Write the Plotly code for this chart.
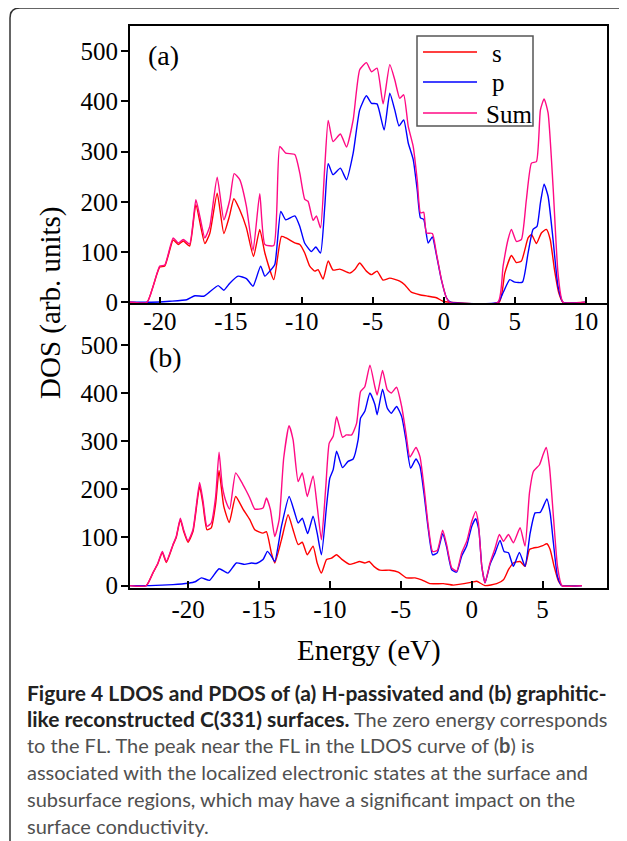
import plotly.graph_objects as go

# ---------------- data (energy eV, DOS arb. units) ----------------
A_S = [(-22.1,0),(-20.9,0),(-20.47,32),(-20.0,70),(-19.65,72),(-19.06,124),(-18.7,115),(-18.35,122),
       (-17.9,112),(-17.46,194),(-16.83,117),(-16.48,137),(-15.96,217),(-15.49,137),(-15.1,171),
       (-14.78,206),(-14.37,184),(-13.9,148),(-13.4,91),(-12.96,145),(-12.6,98),(-11.97,45),
       (-11.43,131),(-11.1,128),(-10.49,118),(-10.14,115),(-9.79,98),(-9.44,72),(-9.08,62),
       (-8.85,65),(-8.5,46),(-8.14,82),(-7.8,64),(-7.32,66),(-6.62,58),(-6.27,65),(-5.92,78),
       (-5.45,62),(-5.09,55),(-4.7,62),(-4.27,44),(-3.8,48),(-3.1,42),(-2.75,35),(-2.28,20),
       (-1.69,15),(-1.1,12),(-0.52,9),(-0.05,2),(0.4,0),(3.9,0),(4.3,58),(4.77,93),(5.12,79),
       (5.47,82),(5.94,128),(6.18,135),(6.53,117),(6.88,138),(7.23,145),(7.5,125),(7.8,65),
       (8.1,19),(8.4,0),(10.0,0)]
A_P = [(-22.1,0),(-20.6,0),(-19.3,2),(-18.1,5),(-17.53,13),(-16.9,12),(-16.6,18),(-15.89,33),
       (-15.49,24),(-15.07,38),(-14.48,52),(-13.9,47),(-13.43,32),(-12.9,72),(-12.6,52),(-12.25,62),
       (-11.9,75),(-11.48,181),(-11.13,164),(-10.49,172),(-10.14,151),(-9.8,118),(-9.32,101),
       (-9.01,110),(-8.68,98),(-8.38,191),(-8.14,276),(-7.8,254),(-7.28,267),(-6.85,244),
       (-6.38,297),(-5.92,383),(-5.45,411),(-5.09,396),(-4.7,395),(-4.2,343),(-3.8,416),
       (-3.45,383),(-3.15,351),(-2.82,363),(-2.5,317),(-2.15,284),(-1.87,224),(-1.64,168),
       (-1.41,165),(-1.1,118),(-0.8,130),(-0.52,95),(-0.16,44),(0.19,9),(0.47,0),(3.82,0),
       (4.18,19),(4.65,45),(5.0,40),(5.54,40),(5.94,98),(6.29,145),(6.57,151),(6.81,198),
       (7.07,235),(7.35,211),(7.7,125),(8.05,32),(8.4,0),(10.0,0)]
A_SUM = [(-22.1,0),(-20.9,0),(-20.47,32),(-20.0,72),(-19.65,74),(-19.06,128),(-18.7,118),
         (-18.35,125),(-17.9,116),(-17.46,204),(-17.18,171),(-16.83,128),(-16.48,151),(-15.96,249),
         (-15.49,164),(-15.07,204),(-14.76,256),(-14.37,244),(-13.9,191),(-13.43,103),(-12.96,216),
         (-12.6,115),(-11.97,113),(-11.55,310),(-11.13,297),(-10.49,294),(-10.14,257),(-9.79,205),
         (-9.56,201),(-9.2,163),(-8.97,172),(-8.68,148),(-8.38,270),(-8.14,362),(-7.8,320),
         (-7.28,335),(-6.85,309),(-6.38,363),(-5.92,463),(-5.45,477),(-5.09,459),(-4.7,466),
         (-4.27,395),(-3.8,473),(-3.45,443),(-3.1,406),(-2.82,413),(-2.5,350),(-2.15,310),
         (-1.87,244),(-1.64,178),(-1.41,179),(-1.22,138),(-0.8,137),(-0.52,98),(-0.16,45),
         (0.19,9),(0.42,0),(3.82,0),(4.18,72),(4.53,125),(4.77,145),(5.12,121),(5.47,125),
         (5.82,204),(6.18,277),(6.53,280),(6.81,383),(7.07,405),(7.35,377),(7.7,231),(8.05,58),
         (8.4,0),(10.0,0)]

B_S = [(-24.1,0),(-22.95,0),(-22.49,26),(-22.13,46),(-21.82,69),(-21.54,48),(-21.07,84),(-20.84,100),
       (-20.55,137),(-20.32,113),(-20.01,90),(-19.66,112),(-19.19,206),(-18.96,170),(-18.67,116),
       (-18.37,120),(-18.06,170),(-17.82,239),(-17.49,165),(-17.1,131),(-16.65,185),(-16.13,159),
       (-15.65,137),(-15.3,116),(-14.72,109),(-14.48,112),(-14.13,68),(-13.89,47),(-13.42,95),
       (-12.95,147),(-12.6,116),(-12.24,85),(-11.95,90),(-11.6,64),(-11.19,82),(-10.9,47),
       (-10.6,26),(-10.24,54),(-9.89,57),(-9.53,64),(-9.18,55),(-8.6,44),(-8.24,47),(-7.9,50),
       (-7.54,47),(-7.23,50),(-6.9,40),(-6.48,32),(-5.77,32),(-5.18,28),(-4.6,16),(-4.0,16),
       (-3.53,12),(-2.95,4),(-2.0,4),(-1.3,1),(0.0,7),(0.35,9),(0.94,0),(1.76,4),(2.24,12),
       (2.59,33),(2.94,47),(3.41,50),(3.76,40),(4.07,75),(4.35,78),(4.71,80),(5.01,83),(5.3,87),
       (5.53,75),(5.81,40),(6.12,9),(6.36,0),(7.78,0)]
B_P = [(-24.1,0),(-22.7,0),(-21.07,2),(-20.0,5),(-19.5,8),(-19.07,16),(-18.49,11),(-17.82,35),
       (-17.19,26),(-16.6,47),(-16.01,44),(-15.54,47),(-15.2,46),(-14.72,54),(-14.41,71),(-14.13,61),
       (-13.89,50),(-13.42,123),(-12.88,185),(-12.48,151),(-12.24,130),(-11.95,140),(-11.57,108),
       (-11.19,144),(-10.9,109),(-10.6,64),(-10.24,165),(-10.01,223),(-9.77,241),(-9.53,279),
       (-9.11,245),(-8.72,258),(-8.36,263),(-8.01,303),(-7.84,348),(-7.54,362),(-7.18,400),
       (-6.83,376),(-6.67,355),(-6.29,408),(-5.96,369),(-5.67,358),(-5.3,372),(-4.94,351),
       (-4.64,303),(-4.31,244),(-3.93,263),(-3.65,248),(-3.37,192),(-3.06,116),(-2.76,64),
       (-2.43,68),(-2.05,108),(-1.77,80),(-1.41,33),(-1.06,28),(-0.71,61),(-0.35,83),(0.0,123),
       (0.28,139),(0.5,116),(0.71,40),(0.94,6),(1.29,44),(1.65,68),(2.0,94),(2.28,71),(2.59,68),
       (2.94,40),(3.36,69),(3.76,40),(4.12,109),(4.47,151),(4.83,152),(5.06,165),(5.3,180),
       (5.53,151),(5.76,89),(6.05,19),(6.36,0),(7.78,0)]
B_SUM = [(-24.1,0),(-22.95,0),(-22.49,26),(-22.13,47),(-21.82,71),(-21.54,50),(-21.07,85),
         (-20.84,102),(-20.55,140),(-20.32,116),(-20.01,93),(-19.66,116),(-19.19,214),(-18.96,178),
         (-18.67,123),(-18.37,130),(-18.06,185),(-17.82,277),(-17.59,206),(-17.3,172),(-17.07,159),
         (-16.65,234),(-16.25,216),(-15.94,199),(-15.65,182),(-15.3,159),(-14.72,161),(-14.48,182),
         (-14.2,158),(-13.89,102),(-13.58,137),(-13.26,265),(-12.88,332),(-12.6,303),(-12.24,216),
         (-11.95,234),(-11.6,185),(-11.19,228),(-10.9,165),(-10.6,95),(-10.29,206),(-10.05,296),
         (-9.77,310),(-9.53,351),(-9.11,308),(-8.84,313),(-8.47,313),(-8.12,337),(-7.84,403),
         (-7.54,413),(-7.18,458),(-6.83,413),(-6.67,396),(-6.29,447),(-5.96,407),(-5.67,400),
         (-5.3,412),(-4.94,372),(-4.64,317),(-4.36,267),(-3.93,287),(-3.65,268),(-3.37,206),
         (-3.06,123),(-2.76,71),(-2.43,73),(-2.05,115),(-1.77,85),(-1.41,37),(-1.06,30),(-0.71,68),
         (-0.35,92),(0.0,133),(0.28,154),(0.47,130),(0.71,40),(0.94,6),(1.29,47),(1.65,78),
         (1.95,106),(2.24,92),(2.59,106),(2.94,89),(3.41,120),(3.76,82),(4.07,192),(4.35,237),
         (4.78,251),(5.01,270),(5.25,287),(5.48,248),(5.76,144),(6.05,40),(6.36,0),(7.78,0)]

SERIES = ["s", "p", "Sum"]
X_TICKS_A = [-20, -15, -10, -5, 0, 5, 10]
X_TICKTEXT_A = ["-20", "-15", "-10", "-5", "0", "5", "10"]
X_TICKS_B = [-20, -15, -10, -5, 0, 5]
X_TICKTEXT_B = ["-20", "-15", "-10", "-5", "0", "5"]
Y_TICKS = [0, 100, 200, 300, 400, 500]

# caption lines: (bold part, regular part)
CAPTION = [
    ("Figure 4 LDOS and PDOS of (a) H-passivated and (b) graphitic-", ""),
    ("like reconstructed C(331) surfaces.", " The zero energy corresponds"),
    ("", "to the FL. The peak near the FL in the LDOS curve of (<b>b</b>) is"),
    ("", "associated with the localized electronic states at the surface and"),
    ("", "subsurface regions, which may have a significant impact on the"),
    ("", "surface conductivity."),
]

# ---------------- layout helpers (screen pixel coordinates) ----------------
OFF = 8                       # page body margin of the html page
SW, SH = 627, 841             # screen size
PL, PR, PT, PB = 130, 607, 26, 588   # plot area in screen pixels
FW, FH = SW - OFF, SH - OFF
PW, PH = PR - PL, PB - PT


def px(x):
    return (x - PL) / PW


def py(y):
    return (PB - y) / PH


SPLIT = py(303)
COLORS = {"s": "#FF0000", "p": "#0000FF", "Sum": "#FF0A84"}
SERIF = "Liberation Serif"

fig = go.Figure()
for name, data in zip(SERIES, [A_S, A_P, A_SUM]):
    fig.add_trace(go.Scatter(
        x=[d[0] for d in data], y=[d[1] for d in data], mode="lines", name=name,
        line=dict(color=COLORS[name], width=1.4, shape="spline", smoothing=0.5),
        xaxis="x2", yaxis="y2", showlegend=False))
for name, data in zip(SERIES, [B_S, B_P, B_SUM]):
    fig.add_trace(go.Scatter(
        x=[d[0] for d in data], y=[d[1] for d in data], mode="lines", name=name,
        line=dict(color=COLORS[name], width=1.4, shape="spline", smoothing=0.5),
        xaxis="x", yaxis="y", showlegend=False))

axis_common = dict(showline=True, linecolor="black", linewidth=2, mirror=True,
                   showgrid=False, zeroline=False, tickcolor="black", tickwidth=1.5,
                   tickfont=dict(family=SERIF, size=25, color="black"))

fig.update_layout(
    width=FW, height=FH,
    margin=dict(l=PL - OFF, r=SW - PR, t=PT - OFF, b=SH - PB),
    paper_bgcolor="white", plot_bgcolor="white",
    xaxis=dict(axis_common, domain=[0, 1], anchor="y", range=[-24.1, 9.54], mirror=False,
               tickvals=X_TICKS_B, ticktext=X_TICKTEXT_B, ticks="inside", ticklen=7,
               ticklabelstandoff=-2),
    yaxis=dict(axis_common, domain=[0, SPLIT], anchor="x", range=[-5, 587],
               tickvals=Y_TICKS, ticks="outside", ticklen=7, ticklabelstandoff=-2),
    xaxis2=dict(axis_common, domain=[0, 1], anchor="y2", range=[-22.1, 11.5],
                tickvals=X_TICKS_A, ticktext=X_TICKTEXT_A, ticks="inside", ticklen=6,
                ticklabelstandoff=-5),
    yaxis2=dict(axis_common, domain=[SPLIT, 1], anchor="x2", range=[-1.5, 550],
                tickvals=Y_TICKS, ticks="outside", ticklen=7, ticklabelstandoff=-2),
    showlegend=False,
)

ann = [
    dict(text="(a)", x=px(146), y=py(55), xanchor="left", yanchor="middle",
         font=dict(family=SERIF, size=28, color="black")),
    dict(text="(b)", x=px(147), y=py(357), xanchor="left", yanchor="middle",
         font=dict(family=SERIF, size=28, color="black")),
    dict(text="DOS (arb. units)", x=px(50), y=py(303), textangle=-90,
         xanchor="center", yanchor="middle", font=dict(family=SERIF, size=29, color="black")),
    dict(text="Energy (eV)", x=px(368.5), y=py(650), xanchor="center", yanchor="middle",
         font=dict(family=SERIF, size=29, color="black")),
]
for i, (bold, reg) in enumerate(CAPTION):
    txt = ""
    if bold:
        txt += f"<b><span style='color:#222'>{bold}</span></b>"
    if reg:
        txt += f"<span style='font-size:20px'>{reg}</span>"
    ann.append(dict(text=txt, x=px(25), y=py(692 + 26.7 * i), xanchor="left",
                    yanchor="middle", font=dict(family="Lato", size=21, color="#505050")))

# legend box (drawn in screen pixels)
LEG_Y = {"s": 52, "p": 82, "Sum": 113}
LEG_TX = {"s": 490, "p": 490, "Sum": 484}
shapes = [dict(type="rect", x0=px(417), x1=px(533), y0=py(36), y1=py(126),
               xref="paper", yref="paper", fillcolor="white",
               line=dict(color="#555", width=1.5), layer="above")]
for name in SERIES:
    shapes.append(dict(type="line", x0=px(423), x1=px(477), y0=py(LEG_Y[name]), y1=py(LEG_Y[name]),
                       xref="paper", yref="paper", line=dict(color=COLORS[name], width=1.5),
                       layer="above"))
    ann.append(dict(text=name, x=px(LEG_TX[name]), y=py(LEG_Y[name] + 1), xanchor="left",
                    yanchor="middle", font=dict(family=SERIF, size=25, color="black")))

for a in ann:
    a.update(xref="paper", yref="paper", showarrow=False)

frame = (f"M {px(10)},{py(841)} L {px(10)},{py(18)} Q {px(10)},{py(8)} {px(20)},{py(8)} "
         f"L {px(617)},{py(8)} Q {px(624)},{py(8)} {px(627)},{py(12)}")
shapes.append(dict(type="path", path=frame, xref="paper", yref="paper",
                   line=dict(color="#333", width=1.5)))
fig.update_layout(annotations=ann, shapes=shapes)

fig.write_html("out.html")
